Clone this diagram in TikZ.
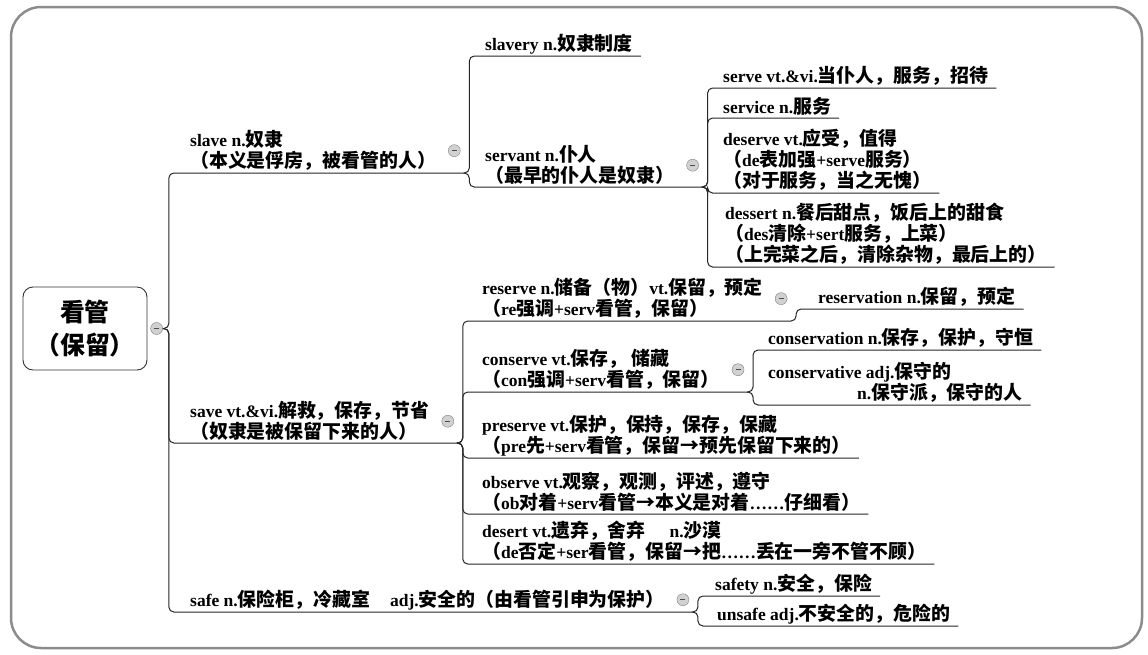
\documentclass[tikz,border=0pt]{standalone}
\usepackage{fontspec}
\usetikzlibrary{positioning}
\setmainfont{Liberation Serif}
\newfontfamily\zhfont{Noto Sans CJK SC}[Scale=1.08]
\newcommand\latfont{\rmfamily}
% switch to the CJK font for Chinese characters
\XeTeXinterchartokenstate=1
\newXeTeXintercharclass\zhclass
\newcount\zhcnt
\newcommand\zhrange[2]{\zhcnt=#1\relax
  \loop\XeTeXcharclass\zhcnt=\zhclass\relax
  \ifnum\zhcnt<#2\relax\advance\zhcnt by 1\repeat}
\zhrange{"3000}{"303F}
\zhrange{"4E00}{"9FFF}
\zhrange{"FF00}{"FFEF}
\XeTeXcharclass"2026=0
\XeTeXcharclass"2192=\zhclass
\XeTeXinterchartoks 0 \zhclass = {\zhfont}
\XeTeXinterchartoks 4095 \zhclass = {\zhfont}
\XeTeXinterchartoks \zhclass 0 = {\latfont}
\XeTeXinterchartoks \zhclass 4095 = {\latfont}
\tikzset{
  frame/.style={draw=black!45,line width=2.5pt,rounded corners=30pt},
  root/.style={draw=black!80,line width=0.9pt,rounded corners=10pt,minimum width=124pt,
    minimum height=83pt,align=center,font=\bfseries\fontsize{23}{33}\selectfont},
  topic/.style={anchor=south west,align=left,inner xsep=0pt,inner ysep=2pt,
    font=\bfseries\fontsize{17.5}{21}\selectfont},
  fold/.style={circle,draw=black!50,fill=black!18,minimum size=12pt,inner sep=0pt,
    path picture={\draw[black!70,line width=0.6pt]
      ([xshift=-2.5pt]path picture bounding box.center) -- ([xshift=2.5pt]path picture bounding box.center);}},
  link/.style={draw=black!85,line width=1pt,rounded corners=5pt}
}
\begin{document}
\begin{tikzpicture}[x=1pt,y=-1pt]
\useasboundingbox (0,0) rectangle (1148,654);
\draw[frame] (11,7) rectangle (1142,648);
% root
\node[root] (kg) at (85,328.5) {看管\\（保留）};
\node[fold,right=3pt of kg] (kgm) {};
% first level
\node[topic] (slave) at (190,173) {slave n.奴隶\\（本义是俘房，被看管的人）};
\node[topic] (save) at (190,443) {save vt.\&vi.解救，保存，节省\\（奴隶是被保留下来的人）};
\node[topic] (safe) at (190,612) {safe n.保险柜，冷藏室\hspace{20pt}adj.安全的（由看管引申为保护）};
% slave
\node[topic] (slavery) at (485,56) {slavery n.奴隶制度};
\node[topic] (servant) at (485,187) {servant n.仆人\\（最早的仆人是奴隶）};
\node[topic] (serve) at (723,88) {serve vt.\&vi.当仆人，服务，招待};
\node[topic] (service) at (723,118) {service n.服务};
\node[topic] (deserve) at (723,193) {deserve vt.应受，值得\\（de表加强+serve服务）\\（对于服务，当之无愧）};
\node[topic] (dessert) at (725,267) {dessert n.餐后甜点，饭后上的甜食\\（des清除+sert服务，上菜）\\（上完菜之后，清除杂物，最后上的）};
% save
\node[topic] (reserve) at (482,321) {reserve n.储备（物）vt.保留，预定\\（re强调+serv看管，保留）};
\node[topic] (conserve) at (482,392) {conserve vt.保存， 储藏\\（con强调+serv看管，保留）};
\node[topic] (preserve) at (482,458) {preserve vt.保护，保持，保存，保藏\\（pre先+serv看管，保留→预先保留下来的）};
\node[topic] (observe) at (482,514) {observe vt.观察，观测，评述，遵守\\（ob对着+serv看管→本义是对着……仔细看）};
\node[topic] (desert) at (482,564) {desert vt.遗弃，舍弃\hspace{24pt}n.沙漠\\（de否定+ser看管，保留→把……丢在一旁不管不顾）};
\node[topic] (reservation) at (818,309) {reservation n.保留，预定};
\node[topic] (conservation) at (768,350) {conservation n.保存，保护，守恒};
\node[topic] (conservative) at (768,405) {conservative adj.保守的\\\hspace*{89pt}n.保守派，保守的人};
% safe
\node[topic] (safety) at (715,596) {safety n.安全，保险};
\node[topic] (unsafe) at (717,626) {unsafe adj.不安全的，危险的};
% fold marks and branch ends
\foreach \n in {slave,save,safe,servant,reserve,conserve} {
  \node[fold,right=12pt of \n] (\n m) {};
  \coordinate (\n e) at ([xshift=9pt]\n m.center |- \n.south);
}
% branches
\foreach \c in {slave,save,safe} \draw[link] (kgm.east) -- ++(6,0) |- (\c e);
\draw[link] (slavee) -- ++(6,0) |- ([xshift=8pt]slavery.south east);
\draw[link] (slavee) -- ++(6,0) |- (servante);
\foreach \c in {serve,service,deserve,dessert} \draw[link] (servante) -- ++(6,0) |- ([xshift=8pt]\c.south east);
\foreach \c in {preserve,observe,desert} \draw[link] (savee) -- ++(6,0) |- ([xshift=8pt]\c.south east);
\foreach \c in {reserve,conserve} \draw[link] (savee) -- ++(6,0) |- (\c e);
\draw[link] (reservee) -- ++(6,0) |- ([xshift=8pt]reservation.south east);
\foreach \c in {conservation,conservative} \draw[link] (conservee) -- ++(6,0) |- ([xshift=8pt]\c.south east);
\foreach \c in {safety,unsafe} \draw[link] (safee) -- ++(6,0) |- ([xshift=8pt]\c.south east);
\end{tikzpicture}
\end{document}
